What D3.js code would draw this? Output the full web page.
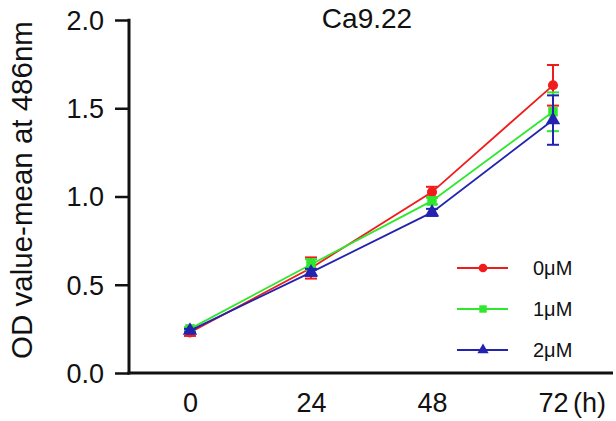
<!DOCTYPE html>
<html><head><meta charset="utf-8">
<script src="https://cdn.jsdelivr.net/npm/d3@7"></script>
<style>body{margin:0;background:#fff}svg{display:block}text{font-family:Arial,"Liberation Sans",sans-serif;fill:#111}</style>
</head><body>
<svg id="c" width="616" height="421"></svg>
<script>
const hours = [0, 24, 48, 72];
const seriesNames = ["0μM", "1μM", "2μM"];
const mean0 = [0.23, 0.595, 1.025, 1.63];
const err0  = [0.02, 0.06, 0.03, 0.115];
const mean1 = [0.25, 0.615, 0.975, 1.48];
const err1  = [0.01, 0.03, 0.02, 0.11];
const mean2 = [0.24, 0.57, 0.91, 1.433];
const err2  = [0.01, 0.02, 0.02, 0.14];
const yTicks = [0, 0.5, 1.0, 1.5, 2.0];
const colors = ["#f01c1c", "#2ee82e", "#2323b0"];
const shapes = [d3.symbolCircle, d3.symbolSquare, d3.symbolTriangle];

const svg = d3.select("#c");
const x = d3.scaleLinear().domain([0, 72]).range([190, 553]);
const y = d3.scaleLinear().domain([0, 2]).range([373, 20]);

// title
svg.append("text").attr("x", 367).attr("y", 28).attr("text-anchor", "middle")
  .style("font-size", "28px").text("Ca9.22");

// y axis
const gy = svg.append("g").attr("transform", "translate(129,0)")
  .call(d3.axisLeft(y).tickValues(yTicks).tickFormat(d3.format(".1f")).tickSize(14).tickPadding(11));
gy.select(".domain").remove();
gy.selectAll(".tick line").attr("stroke", "#111").attr("stroke-width", 2.5);
gy.selectAll(".tick text").style("font-size", "27px").attr("fill", "#111").attr("dy", "0.35em");
svg.append("line").attr("x1", 129).attr("x2", 129).attr("y1", y(2) - 1.2).attr("y2", y(0) + 1.5)
  .attr("stroke", "#111").attr("stroke-width", 3);

// x axis
const gx = svg.append("g").attr("transform", "translate(0,373)")
  .call(d3.axisBottom(x).tickValues(hours).tickSize(0).tickPadding(0));
gx.select(".domain").remove();
gx.selectAll(".tick text").style("font-size", "27px").attr("fill", "#111").attr("y", 39).attr("dy", 0);
svg.append("line").attr("x1", 127.5).attr("x2", 613).attr("y1", 373).attr("y2", 373)
  .attr("stroke", "#111").attr("stroke-width", 3);
svg.append("text").attr("x", 573).attr("y", 412).style("font-size", "27px").text("(h)");

// y label
svg.append("text").attr("transform", "translate(32,190) rotate(-90)")
  .attr("text-anchor", "middle").style("font-size", "29.5px").text("OD value-mean at 486nm");

const series = [
  {name: seriesNames[0], mean: mean0, err: err0},
  {name: seriesNames[1], mean: mean1, err: err1},
  {name: seriesNames[2], mean: mean2, err: err2}
];
const line = d3.line().x((d, i) => x(hours[i])).y(d => y(d));

series.forEach((s, k) => {
  const g = svg.append("g");
  const c = colors[k];
  g.append("path").attr("d", line(s.mean)).attr("fill", "none").attr("stroke", c).attr("stroke-width", 1.8);
  s.mean.forEach((m, i) => {
    const cx = x(hours[i]);
    const e = s.err[i];
    g.append("line").attr("x1", cx).attr("x2", cx).attr("y1", y(m - e)).attr("y2", y(m + e))
      .attr("stroke", c).attr("stroke-width", 2);
    [m - e, m + e].forEach(v => g.append("line").attr("x1", cx - 6).attr("x2", cx + 6)
      .attr("y1", y(v)).attr("y2", y(v)).attr("stroke", c).attr("stroke-width", 2));
  });
  g.selectAll("path.pt").data(s.mean).join("path").attr("class", "pt")
    .attr("transform", (d, i) => `translate(${x(hours[i])},${y(d)})`)
    .attr("d", d3.symbol().type(shapes[k]).size(k === 0 ? 80 : 90)).attr("fill", c);
});

// legend
const legY = [268, 309, 350];
seriesNames.forEach((n, k) => {
  const g = svg.append("g").attr("transform", `translate(0,${legY[k]})`);
  g.append("line").attr("x1", 457).attr("x2", 508).attr("stroke", colors[k]).attr("stroke-width", 1.8);
  g.append("path").attr("transform", "translate(483,0)")
    .attr("d", d3.symbol().type(shapes[k]).size(k === 0 ? 60 : 55)).attr("fill", colors[k]);
  g.append("text").attr("x", 533).attr("y", 0).attr("dy", "0.35em").style("font-size", "20px").text(n);
});
</script>
</body></html>
